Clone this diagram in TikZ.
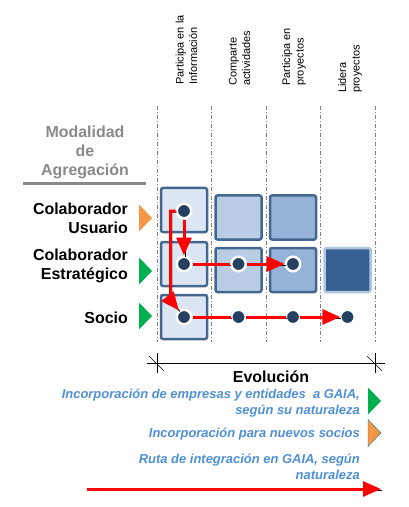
\documentclass[tikz,border=0pt]{standalone}
\usepackage{fontspec}
\setmainfont{Liberation Sans}
\usetikzlibrary{arrows.meta}
\definecolor{boxone}{RGB}{220,230,242}
\definecolor{boxtwo}{RGB}{185,205,229}
\definecolor{boxthree}{RGB}{149,179,215}
\definecolor{boxfour}{RGB}{54,96,146}
\definecolor{boxglow}{RGB}{176,198,224}
\definecolor{boxline}{RGB}{68,103,143}
\definecolor{dotblue}{RGB}{36,63,96}
\definecolor{titlegray}{RGB}{137,137,137}
\definecolor{legblue}{RGB}{79,143,214}
\definecolor{markgreen}{RGB}{0,176,80}
\definecolor{markorange}{RGB}{247,150,70}
\def\colw{54.5}
\def\topy{106}
\def\boty{342}
\def\half{13.5}

\begin{document}
\begin{tikzpicture}[x=1bp,y=-1bp,
  cell/.style={draw=boxline, line width=2.5bp, rounded corners=2bp, minimum width=46bp, minimum height=44bp, inner sep=0pt},
  dot/.style={circle, fill=dotblue, draw=white, line width=2.5bp, minimum size=14.5bp, inner sep=0pt},
  smalldot/.style={dot, line width=1.2bp, minimum size=13.2bp},
  route/.style={draw=red, line width=3bp, -{Triangle[length=18bp,width=15bp]}},
  track/.style={draw=black, line width=1bp, transform canvas={shift={(1bp,-1bp)}}},
  gridline/.style={gray, line width=0.6bp, dash pattern=on 4bp off 2bp on 1bp off 2bp},
  head/.style={rotate=90, anchor=west, align=left, inner sep=0pt, font=\fontsize{11}{13.5}\selectfont},
  rowlabel/.style={anchor=east, align=right, inner sep=0pt, font=\fontsize{16}{19}\selectfont\bfseries},
  legend/.style={anchor=east, align=right, inner sep=0pt, text=legblue, font=\fontsize{13}{16}\selectfont\bfseries\itshape}]

\useasboundingbox (0,0) rectangle (408,507);

%column headers
\node[head] (h1) at (186.5,85) {Participa en la\\Información};
\node[head] (h2) at (239.5,86) {Comparte\\actividades};
\node[head] (h3) at (294,86) {Participa en\\proyectos};
\node[head] (h4) at (350,93) {Lidera\\proyectos};

%dash-dot column lines
\foreach \i in {0,...,4}{
   \draw[gridline] (157+\i*\colw,\topy) -- (157+\i*\colw,\boty);
}

%left side
\node[align=center, inner sep=0pt, text=titlegray, font=\fontsize{16}{19}\selectfont\bfseries] (mod) at (85,152) {Modalidad\\de\\Agregación};
\draw[titlegray, line width=3bp] (23,184) -- (146,184);

\node[rowlabel] (lu) at (128,218.5) {Colaborador\\Usuario};
\node[rowlabel] (le) at (128,266) {Colaborador\\Estratégico};
\node[rowlabel] (ls) at (128,318) {Socio};

\foreach \y/\c in {218/markorange,271/markgreen,316/markgreen}{
   \fill[\c] (139,\y-\half) -- (152,\y) -- (139,\y+\half) -- cycle;
}

%boxes
\node[cell, fill=boxone] (u1) at (184,210) {};
\node[cell, fill=boxone] (e1) at (184,264) {};
\node[cell, fill=boxone] (s1) at (184,317) {};
\node[cell, fill=boxtwo] (u2) at (184+\colw,217.5) {};
\node[cell, fill=boxtwo] (e2) at (184+\colw,270) {};
\node[cell, fill=boxthree] (u3) at (184+2*\colw,217.5) {};
\node[cell, fill=boxthree] (e3) at (184+2*\colw,270) {};
\node[cell, fill=boxfour, draw=boxglow] (e4) at (184+3*\colw,270) {};

%dots
\node[dot] (pu1) at (184,211) {};
\node[dot] (pe1) at (e1) {};
\node[dot] (pe2) at (e2 |- pe1) {};
\node[dot] (pe3) at (e3 |- pe1) {};
\node[dot] (ps1) at (s1) {};
\node[smalldot] (ps2) at (e2 |- ps1) {};
\node[smalldot] (ps3) at (e3 |- ps1) {};
\node[smalldot] (ps4) at (e4 |- ps1) {};

%routes
\draw[track] (pu1) -- (pe1);
\draw[route] (pu1) -- (pe1);
\draw[track] (pu1.west) -- ++(-5,0) -- ++(0,89) -- (ps1);
\draw[route] (pu1.west) -- ++(-5,0) -- ++(0,89) -- (ps1);
\draw[track] (pe1) -- (pe2) -- (pe3);
\draw[route] (pe1) -- (pe2) -- (pe3);
\draw[track] (ps1) -- (ps2) -- (ps3) -- (ps4);
\draw[route] (ps1) -- (ps2) -- (ps3) -- (ps4);

%evolution
\coordinate (evl) at (157,363);
\coordinate (evr) at (375,363);
\draw ([xshift=-10bp]evl) -- ([xshift=10bp]evr);
\foreach \p in {evl,evr}{
   \draw (\p) ++(0,-10) -- ++(0,20);
   \draw (\p) ++(-8,-7) -- ++(15,15);
}
\node[inner sep=0pt, font=\fontsize{16}{19}\selectfont\bfseries] (evo) at (271,377) {Evolución};

%legend
\node[legend] (l1) at (360,403) {Incorporación de empresas y entidades\ \ a GAIA,\\según su naturaleza};
\node[legend] (l2) at (360,434) {Incorporación para nuevos socios};
\node[legend] (l3) at (360,467) {Ruta de integración en GAIA, según\\naturaleza};
\fill[markgreen] (368,401-\half) -- (381,401) -- (368,401+\half) -- cycle;
\filldraw[fill=markorange, draw=teal, line width=0.4bp] (368,433-\half) -- (381,433) -- (368,433+\half) -- cycle;

\coordinate (rs) at (87,489);
\coordinate (re) at (381,489);
\draw[track] (rs) -- (re);
\draw[route] (rs) -- (re);

\end{tikzpicture}
\end{document}
